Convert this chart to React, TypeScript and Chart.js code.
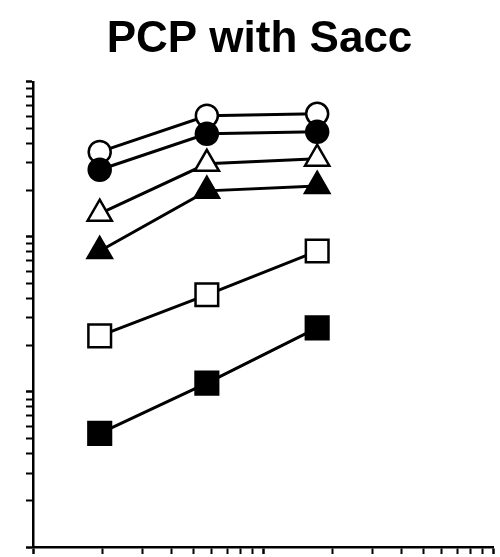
import React, { useEffect, useRef } from "react";
import { Chart, registerables } from "chart.js";

Chart.register(...registerables);

const chartTitle = "PCP with Sacc";
const xValues = [1.95, 5.7, 17.2];
const openCircle = [353, 604, 622];
const filledCircle = [271, 462, 476];
const openTriangle = [141, 296, 319];
const filledTriangle = [81, 198, 213];
const openSquare = [23, 42.3, 81];
const filledSquare = [5.4, 11.4, 25.9];
const xTicks = [1, 2, 3, 4, 5, 6, 7, 8, 9, 10, 20, 30, 40, 50, 60, 70, 80, 90, 100];
const yTicks = [
  1, 2, 3, 4, 5, 6, 7, 8, 9, 10, 20, 30, 40, 50, 60, 70, 80, 90, 100, 200, 300, 400, 500, 600, 700, 800, 900, 1000,
];

const isDecade = (v: number) => Math.abs(Math.log10(v) - Math.round(Math.log10(v))) < 1e-9;

function makeSeries(values: number[], style: string, filled: boolean, radius: number) {
  return {
    data: values.map((y, i) => ({ x: xValues[i], y })),
    borderColor: "#000",
    borderWidth: 3,
    pointStyle: style,
    pointRadius: radius,
    pointBorderWidth: 2.5,
    pointBorderColor: "#000",
    pointBackgroundColor: filled ? "#000" : "#fff",
    showLine: true,
    fill: false,
    tension: 0,
    clip: false,
  };
}

export default function App() {
  const ref = useRef<HTMLCanvasElement | null>(null);

  useEffect(() => {
    if (!ref.current) return;
    const axisCommon = (tickList: number[]) => ({
      type: "logarithmic" as const,
      border: { display: true, color: "#000", width: 2.5 },
      grid: {
        display: true,
        drawOnChartArea: false,
        drawTicks: true,
        tickLength: 7,
        tickColor: "#000",
        color: "#000",
        tickWidth: (ctx: any) => (ctx.tick && isDecade(ctx.tick.value) ? 2.5 : 2),
      },
      ticks: { display: false, autoSkip: false },
      afterBuildTicks: (scale: any) => {
        scale.ticks = tickList.map((v) => ({ value: v, major: isDecade(v) }));
      },
    });

    const chart = new Chart(ref.current, {
      type: "line",
      data: {
        datasets: [
          makeSeries(filledSquare, "rect", true, 16),
          makeSeries(openSquare, "rect", false, 16),
          makeSeries(filledTriangle, "triangle", true, 14),
          makeSeries(openTriangle, "triangle", false, 14),
          makeSeries(filledCircle, "circle", true, 11),
          makeSeries(openCircle, "circle", false, 11),
        ] as any,
      },
      options: {
        animation: false,
        responsive: false,
        layout: { autoPadding: false, padding: { left: 26, right: 7, top: 0, bottom: 3 } },
        plugins: {
          legend: { display: false },
          tooltip: { enabled: false },
          title: {
            display: true,
            text: chartTitle,
            color: "#000",
            font: { size: 44, weight: "bold", family: "'Liberation Sans', Arial, Helvetica, sans-serif" },
            padding: { top: 13, bottom: 16 },
          },
        },
        scales: {
          x: { ...axisCommon(xTicks), min: 1, max: 100 },
          y: { ...axisCommon(yTicks), min: 1, max: 1000 },
        } as any,
      },
    });
    return () => chart.destroy();
  }, []);

  return (
    <div style={{ position: "absolute", left: 0, top: 0, width: 500, height: 557, background: "#fff" }}>
      <canvas ref={ref} width={500} height={557} style={{ display: "block" }} />
    </div>
  );
}
